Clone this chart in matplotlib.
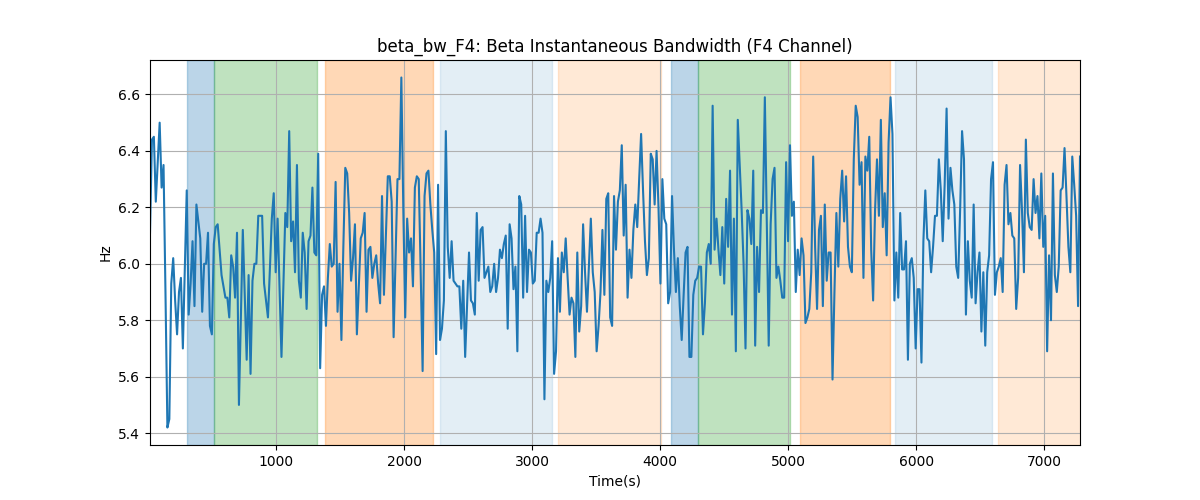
import numpy as np
import matplotlib
matplotlib.use("Agg")
import matplotlib.pyplot as plt

# Beta bandwidth values (Hz), in time order
seg1 = [6.11, 6.44, 6.45, 6.22, 6.36, 6.50, 6.27, 6.35, 5.90, 5.42, 5.45, 5.93, 6.02, 5.87, 5.75,
        5.90, 5.95, 5.70, 5.98, 6.26, 5.82, 5.93, 6.08, 5.85, 6.21, 6.15, 6.09, 5.83, 6.00, 6.00,
        6.11, 5.78, 5.75, 6.07, 6.13, 6.14, 6.05, 5.96, 5.92, 5.88, 5.88, 5.81, 6.03, 5.99, 5.88,
        6.11, 5.50, 5.81, 6.12, 5.89, 5.66, 5.96, 5.61, 5.94, 6.00, 6.00, 6.17, 6.17, 6.17, 5.93]
seg2 = [5.87, 5.81, 5.98, 6.16, 6.25, 5.97, 6.16, 5.92, 5.67, 5.92, 6.18, 6.13, 6.47, 6.08, 6.15,
        5.97, 6.35, 5.94, 5.88, 6.11, 6.04, 5.84, 6.08, 6.10, 6.27, 6.04, 6.03, 6.39, 5.63, 5.89,
        5.92, 5.78, 5.95, 6.07, 5.99, 6.00, 6.29, 5.83, 6.00, 5.73, 6.06, 6.34, 6.32, 6.18, 5.94,
        6.02, 6.14, 5.75, 5.92, 6.09, 6.11, 6.18, 5.83, 6.05, 6.06, 5.95, 6.00, 6.03, 5.93, 5.86,
        6.24]
seg3 = [5.89, 6.10, 6.31, 6.31, 6.22, 5.74, 6.02, 6.30, 6.30, 6.66, 6.20, 5.81, 6.16, 6.04, 6.09,
        5.92, 6.27, 6.31, 6.30, 5.97, 5.62, 6.24, 6.32, 6.33, 6.21, 6.12, 6.04, 5.68, 6.28, 5.73,
        5.77, 5.87, 6.47, 6.06, 5.95, 6.08, 5.94, 5.93, 5.92, 5.92, 5.77, 5.94, 5.67, 5.85, 6.04,
        5.87, 5.86, 5.82, 6.18, 5.94, 6.12, 6.13, 5.95, 5.97, 5.99, 5.90, 5.92, 6.00]
seg4 = [5.90, 5.95, 6.05, 6.02, 6.07, 6.10, 5.77, 6.14, 6.09, 5.91, 5.99, 5.69, 6.24, 6.21, 5.88,
        6.17, 5.90, 6.05, 6.04, 5.93, 5.94, 6.11, 6.11, 6.16, 6.11, 5.52, 5.94, 5.90, 5.95, 6.08,
        5.61, 5.69, 6.02, 5.83, 6.04, 5.97, 6.09, 5.95, 5.82, 5.88, 5.86, 5.67, 6.04, 5.76, 5.85,
        6.14, 5.97, 5.83, 5.99, 6.16, 5.97, 5.90, 5.69, 5.78, 5.90, 6.12, 5.89, 6.23, 6.25, 5.81,
        5.78]
seg5 = [6.24, 6.05, 6.22, 6.26, 6.42, 6.10, 6.28, 5.88, 6.05, 5.95, 6.12, 6.21, 6.13, 6.30, 6.46,
        6.26, 6.08, 5.96, 6.02, 6.39, 6.37, 6.21, 6.40, 6.20, 5.93, 6.30, 6.16, 6.14, 5.86, 5.90,
        6.24, 6.05, 5.90, 6.02, 5.85, 5.73, 5.89, 6.04, 6.06, 5.67, 5.67, 5.89, 5.94, 5.95, 5.99,
        5.99, 5.75, 5.86, 6.04, 6.07, 6.00, 6.56, 6.05, 6.16, 6.05, 5.96, 6.13, 5.93, 6.23, 6.06]
seg6 = [6.33, 5.82, 6.16, 5.69, 6.51, 6.35, 6.19, 6.00, 5.70, 6.19, 6.16, 6.07, 6.33, 5.71, 6.06,
        5.90, 6.19, 6.18, 6.59, 6.14, 5.71, 6.14, 6.30, 6.34, 5.95, 5.99, 5.94, 5.88, 5.88, 6.36,
        6.08, 6.42, 6.17, 6.22, 5.90, 6.05, 5.96, 6.09, 6.03, 5.79, 5.81, 5.84, 5.97, 6.38, 6.06,
        5.84, 6.12, 6.17, 5.85, 6.21, 5.94, 6.04, 6.04, 5.59, 5.90, 6.18, 5.99, 6.23, 6.33, 6.15,
        6.31]
seg7 = [6.06, 5.99, 5.97, 6.37, 6.56, 6.52, 6.28, 6.36, 5.95, 6.38, 6.33, 6.45, 6.05, 5.87, 6.19,
        6.37, 6.17, 6.51, 6.13, 6.25, 6.03, 6.43, 6.59, 6.46, 5.87, 6.04, 5.88, 6.18, 5.98, 5.98,
        6.08, 5.66, 6.00, 6.02, 5.95, 5.70, 5.91, 5.91, 5.65, 6.08, 6.26, 6.09, 6.08, 5.97, 6.06,
        6.17, 6.17, 6.37, 6.26, 6.08, 6.28, 6.55, 6.16, 6.34, 6.26, 6.21, 5.99, 5.95, 6.19, 6.47]
seg8 = [6.37, 5.82, 6.08, 5.94, 5.88, 6.21, 5.86, 5.97, 6.04, 5.76, 5.97, 5.71, 5.97, 6.03, 6.30,
        6.36, 5.89, 5.97, 5.99, 6.02, 5.90, 6.28, 6.35, 6.14, 6.18, 6.10, 6.09, 5.84, 5.95, 6.35,
        6.19, 5.97, 6.44, 6.18, 6.13, 6.12, 6.30, 6.18, 6.24, 6.09, 6.32, 6.06, 6.17, 5.69, 6.03,
        5.80, 6.32, 5.96, 5.90, 5.99, 6.26, 6.27, 6.41, 6.24, 6.06, 5.97, 6.38, 6.28, 6.17, 5.85,
        6.38]
values = seg1 + seg2 + seg3 + seg4 + seg5 + seg6 + seg7 + seg8

t_start, t_end = 16, 7280  # seconds, uniform sampling
times = np.linspace(t_start, t_end, len(values))

# Shaded periods (start, end, colour, alpha)
span_starts = [307, 513, 1383, 2281, 3203, 4086, 4299, 5094, 5833, 6641]
span_ends = [513, 1318, 2224, 3154, 4005, 4299, 5013, 5794, 6591, 7300]
span_colors = ["tab:blue", "tab:green", "tab:orange", "tab:blue", "tab:orange",
               "tab:blue", "tab:green", "tab:orange", "tab:blue", "tab:orange"]
span_alphas = [0.3, 0.3, 0.3, 0.12, 0.17, 0.3, 0.3, 0.3, 0.12, 0.17]

fig, ax = plt.subplots(figsize=(12, 5), dpi=100)
for s, e, c, a in zip(span_starts, span_ends, span_colors, span_alphas):
    ax.axvspan(s, e, color=c, alpha=a)
ax.plot(times, values, color="tab:blue", linewidth=1.5)
ax.set_xlim(t_start, t_end)
ax.grid(True)
ax.set_title("beta_bw_F4: Beta Instantaneous Bandwidth (F4 Channel)")
ax.set_xlabel("Time(s)")
ax.set_ylabel("Hz")
fig.savefig("out.png", dpi=100)
